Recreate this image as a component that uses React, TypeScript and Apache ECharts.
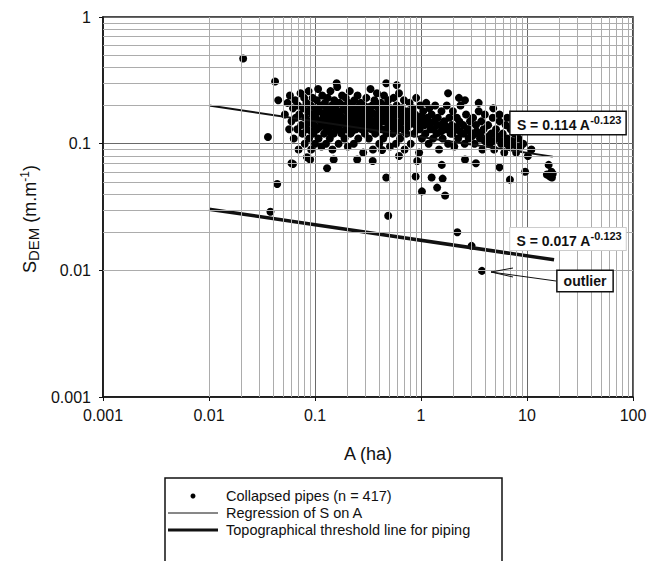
import { useEffect, useRef } from 'react';
import * as echarts from 'echarts';

const xMinorGrid = [
  0.002, 0.003, 0.004, 0.005, 0.006, 0.007, 0.008, 0.009,
  0.02, 0.03, 0.04, 0.05, 0.06, 0.07, 0.08, 0.09,
  0.2, 0.3, 0.4, 0.5, 0.6, 0.7, 0.8, 0.9,
  2, 3, 4, 5, 6, 7, 8, 9,
  20, 30, 40, 50, 60, 70, 80, 90,
];
const yMinorGrid = [
  0.002, 0.003, 0.004, 0.005, 0.006, 0.007, 0.008, 0.009,
  0.02, 0.03, 0.04, 0.05, 0.06, 0.07, 0.08, 0.09,
  0.2, 0.3, 0.4, 0.5, 0.6, 0.7, 0.8, 0.9,
];

// Collapsed pipes: [A (ha), S_DEM (m/m)]
const pipesOutlying: [number, number][] = [
  [0.021, 0.47], [0.042, 0.31], [0.036, 0.113], [0.045, 0.22], [0.062, 0.069],
  [0.044, 0.048], [0.038, 0.029], [0.13, 0.064], [0.084, 0.078], [0.47, 0.3],
  [0.59, 0.29], [2.28, 0.23], [0.49, 0.027], [2.2, 0.02], [3.0, 0.0156],
  [3.76, 0.0099], [15.4, 0.057], [16, 0.068], [16.5, 0.055], [17, 0.06],
  [17.5, 0.058], [17.2, 0.054], [9.6, 0.06], [6.9, 0.052], [0.47, 0.054],
  [1.02, 0.042], [1.69, 0.039], [1.42, 0.045], [1.6, 0.053], [1.26, 0.054],
  [1.57, 0.068], [0.92, 0.073], [0.89, 0.055], [0.35, 0.073], [0.43, 0.089],
  [0.06, 0.07], [0.09, 0.075], [0.25, 0.075], [5.5, 0.065], [3.3, 0.07],
  [2.6, 0.075], [0.62, 0.08], [0.15, 0.075], [0.16, 0.3], [1.8, 0.25],
];
const pipesCloud: [number, number][] = [
  [0.052, 0.17], [0.055, 0.21], [0.057, 0.13], [0.058, 0.24], [0.06, 0.15],
  [0.062, 0.19], [0.063, 0.11], [0.065, 0.22], [0.066, 0.16], [0.068, 0.13],
  [0.069, 0.2], [0.07, 0.09], [0.071, 0.17], [0.073, 0.25], [0.074, 0.14],
  [0.076, 0.12], [0.077, 0.19], [0.079, 0.23], [0.08, 0.1], [0.081, 0.16],
  [0.083, 0.21], [0.084, 0.13], [0.086, 0.18], [0.087, 0.26], [0.088, 0.11],
  [0.09, 0.15], [0.091, 0.2], [0.092, 0.09], [0.094, 0.17], [0.095, 0.23],
  [0.097, 0.12], [0.098, 0.14], [0.1, 0.19], [0.1, 0.1], [0.102, 0.16],
  [0.104, 0.22], [0.105, 0.13], [0.107, 0.27], [0.108, 0.11], [0.11, 0.18],
  [0.112, 0.15], [0.113, 0.2], [0.115, 0.095], [0.117, 0.24], [0.118, 0.14],
  [0.12, 0.17], [0.122, 0.12], [0.124, 0.21], [0.125, 0.16], [0.127, 0.1],
  [0.129, 0.19], [0.13, 0.13], [0.132, 0.23], [0.134, 0.15], [0.136, 0.18],
  [0.138, 0.11], [0.14, 0.26], [0.142, 0.14], [0.144, 0.2], [0.146, 0.09],
  [0.148, 0.17], [0.15, 0.12], [0.152, 0.22], [0.155, 0.15], [0.157, 0.19],
  [0.16, 0.13], [0.162, 0.28], [0.165, 0.16], [0.167, 0.1], [0.17, 0.21],
  [0.172, 0.14], [0.175, 0.18], [0.178, 0.12], [0.18, 0.24], [0.183, 0.16],
  [0.186, 0.2], [0.19, 0.11], [0.192, 0.15], [0.195, 0.23], [0.198, 0.13],
  [0.2, 0.18], [0.204, 0.095], [0.207, 0.21], [0.21, 0.15], [0.213, 0.26],
  [0.216, 0.12], [0.22, 0.17], [0.224, 0.2], [0.228, 0.14], [0.232, 0.1],
  [0.235, 0.22], [0.24, 0.16], [0.244, 0.13], [0.248, 0.19], [0.252, 0.24],
  [0.256, 0.11], [0.26, 0.15], [0.265, 0.18], [0.27, 0.21], [0.275, 0.13],
  [0.28, 0.16], [0.285, 0.085], [0.29, 0.2], [0.295, 0.12], [0.3, 0.17],
  [0.305, 0.23], [0.31, 0.14], [0.316, 0.19], [0.322, 0.11], [0.328, 0.16],
  [0.334, 0.27], [0.34, 0.13], [0.346, 0.2], [0.352, 0.09], [0.358, 0.15],
  [0.364, 0.22], [0.37, 0.12], [0.377, 0.17], [0.384, 0.25], [0.39, 0.14],
  [0.397, 0.19], [0.404, 0.1], [0.41, 0.16], [0.418, 0.21], [0.425, 0.13],
  [0.432, 0.18], [0.44, 0.11], [0.448, 0.24], [0.456, 0.15], [0.464, 0.2],
  [0.472, 0.12], [0.48, 0.17], [0.49, 0.22], [0.5, 0.14], [0.51, 0.095],
  [0.52, 0.19], [0.53, 0.16], [0.54, 0.12], [0.55, 0.23], [0.56, 0.15],
  [0.57, 0.18], [0.58, 0.1], [0.59, 0.2], [0.6, 0.13], [0.61, 0.17],
  [0.62, 0.25], [0.635, 0.11], [0.65, 0.15], [0.66, 0.19], [0.675, 0.13],
  [0.69, 0.22], [0.7, 0.09], [0.72, 0.16], [0.73, 0.12], [0.75, 0.18],
  [0.76, 0.14], [0.78, 0.21], [0.8, 0.1], [0.82, 0.15], [0.84, 0.19],
  [0.86, 0.12], [0.88, 0.17], [0.9, 0.23], [0.92, 0.13], [0.94, 0.16],
  [0.96, 0.085], [0.98, 0.2], [1.0, 0.14], [1.02, 0.11], [1.05, 0.18],
  [1.07, 0.15], [1.1, 0.12], [1.12, 0.21], [1.15, 0.16], [1.18, 0.1],
  [1.2, 0.19], [1.23, 0.13], [1.26, 0.17], [1.3, 0.11], [1.33, 0.15],
  [1.36, 0.2], [1.4, 0.12], [1.44, 0.16], [1.48, 0.09], [1.52, 0.14],
  [1.56, 0.18], [1.6, 0.11], [1.65, 0.15], [1.7, 0.13], [1.75, 0.2],
  [1.8, 0.1], [1.85, 0.16], [1.9, 0.12], [1.95, 0.14], [2.0, 0.18],
  [2.06, 0.095], [2.12, 0.13], [2.18, 0.16], [2.24, 0.11], [2.3, 0.15],
  [2.36, 0.2], [2.42, 0.12], [2.5, 0.14], [2.58, 0.1], [2.66, 0.17],
  [2.74, 0.13], [2.82, 0.11], [2.9, 0.15], [3.0, 0.12], [3.1, 0.16],
  [3.2, 0.1], [3.3, 0.14], [3.4, 0.12], [3.5, 0.18], [3.6, 0.11],
  [3.7, 0.15], [3.8, 0.09], [3.9, 0.13], [4.0, 0.17], [4.15, 0.11],
  [4.3, 0.14], [4.45, 0.1], [4.6, 0.12], [4.75, 0.16], [4.9, 0.09],
  [5.1, 0.13], [5.3, 0.11], [5.5, 0.15], [5.7, 0.1], [5.9, 0.12],
  [6.1, 0.085], [6.3, 0.14], [6.5, 0.11], [6.8, 0.095], [7.0, 0.13],
  [7.3, 0.1], [7.6, 0.12], [7.9, 0.085], [8.3, 0.11], [8.7, 0.095],
  [9.2, 0.1], [10.2, 0.08], [11, 0.09],
  [4.8, 0.19], [3.5, 0.21], [5.5, 0.17], [6.5, 0.16], [2.6, 0.22],
  [7.5, 0.14], [9, 0.13],
];
const pipesCore: [number, number][] = [
  [0.085, 0.145], [0.093, 0.125], [0.099, 0.165], [0.106, 0.185], [0.111, 0.135],
  [0.119, 0.155], [0.126, 0.175], [0.131, 0.145], [0.137, 0.125], [0.143, 0.165],
  [0.149, 0.195], [0.156, 0.135], [0.163, 0.175], [0.169, 0.155], [0.176, 0.125],
  [0.184, 0.145], [0.191, 0.185], [0.199, 0.16], [0.206, 0.135], [0.215, 0.19],
  [0.223, 0.125], [0.231, 0.155], [0.238, 0.185], [0.246, 0.145], [0.255, 0.17],
  [0.263, 0.2], [0.272, 0.14], [0.282, 0.185], [0.292, 0.15], [0.302, 0.13],
  [0.313, 0.165], [0.325, 0.195], [0.337, 0.145], [0.349, 0.175], [0.361, 0.13],
  [0.374, 0.2], [0.387, 0.16], [0.4, 0.135], [0.414, 0.185], [0.428, 0.15],
  [0.443, 0.17], [0.46, 0.13], [0.476, 0.19], [0.495, 0.155], [0.515, 0.175],
  [0.535, 0.135], [0.555, 0.165], [0.575, 0.145], [0.6, 0.185], [0.625, 0.14],
  [0.655, 0.165], [0.685, 0.15], [0.715, 0.175], [0.745, 0.135], [0.775, 0.16],
  [0.81, 0.145], [0.85, 0.17], [0.89, 0.14], [0.93, 0.155], [0.97, 0.13],
  [1.01, 0.165], [1.08, 0.14], [1.14, 0.155], [1.22, 0.145], [1.32, 0.13],
  [1.42, 0.14], [1.55, 0.125], [1.68, 0.14], [1.82, 0.13], [1.98, 0.12],
  [2.15, 0.135], [2.33, 0.125], [2.55, 0.12], [2.8, 0.13], [3.05, 0.115],
  [3.35, 0.125], [3.65, 0.12], [4.0, 0.105], [4.4, 0.115], [4.8, 0.105],
  [5.2, 0.115], [5.8, 0.105], [6.4, 0.1], [7.2, 0.105], [8.0, 0.095],
];
const pipes = [...pipesOutlying, ...pipesCloud, ...pipesCore];

const regressionLine: [number, number][] = [[0.01, 0.2], [17.5, 0.079]];
const thresholdLine: [number, number][] = [[0.01, 0.0304], [18, 0.0121]];

const FONT = '"Liberation Sans", Arial, sans-serif';
const INK = '#111';

const fmt = (v: number) => String(parseFloat(Number(v).toPrecision(3)));

export default function App() {
  const ref = useRef<HTMLDivElement>(null);
  useEffect(() => {
    if (!ref.current) return;
    const chart = echarts.init(ref.current, undefined, { renderer: 'svg' });
    const minorLines = [
      ...xMinorGrid.map((v) => ({ xAxis: v })),
      ...yMinorGrid.map((v) => ({ yAxis: v })),
    ];
    const tickLabel = {
      color: INK, fontSize: 16, fontFamily: FONT, formatter: fmt,
      hideOverlap: false, showMinLabel: true, showMaxLabel: true,
    };
    chart.setOption({
      animation: false,
      backgroundColor: '#fff',
      grid: {
        left: 103, right: 15, top: 17, bottom: 164,
        show: true, borderColor: INK, borderWidth: 1.5,
        outerBoundsMode: 'none',
      },
      xAxis: {
        type: 'log', logBase: 10, min: 0.001, max: 100, splitNumber: 5,
        axisLine: { show: true, lineStyle: { color: INK, width: 1.5 } },
        axisTick: { show: true, length: 4, lineStyle: { color: INK } },
        axisLabel: { ...tickLabel, margin: 10 },
        splitLine: { show: true, lineStyle: { color: '#6a6a6a', width: 1 } },
      },
      yAxis: {
        type: 'log', logBase: 10, min: 0.001, max: 1, splitNumber: 3,
        axisLine: { show: true, lineStyle: { color: INK, width: 1.5 } },
        axisTick: { show: true, length: 4, lineStyle: { color: INK } },
        axisLabel: { ...tickLabel, margin: 12 },
        splitLine: { show: true, lineStyle: { color: '#6a6a6a', width: 1 } },
      },
      series: [
        {
          type: 'line', name: 'grid', data: [], z: 1, silent: true,
          markLine: {
            silent: true, symbol: ['none', 'none'], label: { show: false },
            lineStyle: { color: '#acacac', width: 1, type: 'solid' },
            emphasis: { disabled: true },
            data: minorLines,
          },
        },
        {
          type: 'scatter', name: 'Collapsed pipes (n = 417)', data: pipes,
          symbol: 'circle', symbolSize: 8, itemStyle: { color: '#000', opacity: 1 }, z: 3,
        },
        {
          type: 'line', name: 'Regression of S on A', data: regressionLine,
          showSymbol: false, lineStyle: { color: INK, width: 2 }, z: 4,
        },
        {
          type: 'line', name: 'Topographical threshold line for piping', data: thresholdLine,
          showSymbol: false, lineStyle: { color: INK, width: 3.5 }, z: 4,
        },
      ],
      graphic: [
        {
          type: 'text', x: 30, y: 219, rotation: Math.PI / 2, z: 10,
          style: {
            text: '{a|S}{b|DEM}{a| (m.m}{c|-1}{a|)}',
            align: 'center', verticalAlign: 'middle',
            rich: {
              a: { fontSize: 18, fontFamily: FONT, fill: INK, lineHeight: 22, verticalAlign: 'middle' },
              b: { fontSize: 15, fontFamily: FONT, fill: INK, lineHeight: 22, verticalAlign: 'bottom' },
              c: { fontSize: 12, fontFamily: FONT, fill: INK, lineHeight: 12, verticalAlign: 'top' },
            },
          },
        },
        {
          type: 'text', x: 368, y: 454, z: 10,
          style: { text: 'A (ha)', fontSize: 18, fontFamily: FONT, fill: INK, align: 'center', verticalAlign: 'middle' },
        },
        {
          type: 'text', x: 568, y: 123, z: 10,
          style: {
            text: '{a|S = 0.114 A}{b|-0.123}',
            align: 'center', verticalAlign: 'middle',
            backgroundColor: '#fff', borderColor: INK, borderWidth: 1.5, padding: [2, 4, 2, 6],
            rich: {
              a: { fontSize: 14, fontWeight: 'bold', fontFamily: FONT, fill: INK, lineHeight: 18, verticalAlign: 'bottom' },
              b: { fontSize: 11, fontWeight: 'bold', fontFamily: FONT, fill: INK, lineHeight: 12, verticalAlign: 'top' },
            },
          },
        },
        {
          type: 'text', x: 568, y: 239, z: 10,
          style: {
            text: '{a|S = 0.017 A}{b|-0.123}',
            align: 'center', verticalAlign: 'middle',
            backgroundColor: '#fff', borderColor: '#ccc', borderWidth: 1, padding: [2, 4, 2, 6],
            rich: {
              a: { fontSize: 14, fontWeight: 'bold', fontFamily: FONT, fill: INK, lineHeight: 18, verticalAlign: 'bottom' },
              b: { fontSize: 11, fontWeight: 'bold', fontFamily: FONT, fill: INK, lineHeight: 12, verticalAlign: 'top' },
            },
          },
        },
        {
          type: 'line', z: 10,
          shape: { x1: 491, y1: 272, x2: 556, y2: 281 },
          style: { stroke: INK, lineWidth: 1 },
        },
        {
          type: 'polyline', z: 10,
          shape: { points: [[513, 268], [491, 272], [513, 277]] },
          style: { stroke: INK, lineWidth: 1, fill: 'none' },
        },
        {
          type: 'text', x: 585, y: 281, z: 11,
          style: {
            text: 'outlier', fontSize: 14, fontWeight: 'bold', fontFamily: FONT, fill: INK,
            align: 'center', verticalAlign: 'middle',
            backgroundColor: '#fff', borderColor: INK, borderWidth: 1.5, padding: [3, 6, 3, 6],
          },
        },
        // legend
        {
          type: 'rect', z: 10,
          shape: { x: 165, y: 478, width: 337, height: 85 },
          style: { fill: '#fff', stroke: INK, lineWidth: 1.5 },
        },
        { type: 'circle', z: 11, shape: { cx: 193, cy: 496, r: 2.5 }, style: { fill: '#000' } },
        { type: 'line', z: 11, shape: { x1: 168, y1: 513, x2: 218, y2: 513 }, style: { stroke: INK, lineWidth: 1 } },
        { type: 'line', z: 11, shape: { x1: 168, y1: 530, x2: 218, y2: 530 }, style: { stroke: INK, lineWidth: 3 } },
        {
          type: 'text', x: 226, y: 496, z: 11,
          style: { text: 'Collapsed pipes (n = 417)', fontSize: 14.5, fontFamily: FONT, fill: INK, verticalAlign: 'middle' },
        },
        {
          type: 'text', x: 226, y: 513, z: 11,
          style: { text: 'Regression of S on A', fontSize: 14.5, fontFamily: FONT, fill: INK, verticalAlign: 'middle' },
        },
        {
          type: 'text', x: 226, y: 530, z: 11,
          style: { text: 'Topographical threshold line for piping', fontSize: 14.5, fontFamily: FONT, fill: INK, verticalAlign: 'middle' },
        },
      ],
    });
    return () => chart.dispose();
  }, []);
  return (
    <div
      ref={ref}
      style={{ position: 'fixed', left: 0, top: 0, width: 648, height: 561, overflow: 'hidden' }}
    />
  );
}
